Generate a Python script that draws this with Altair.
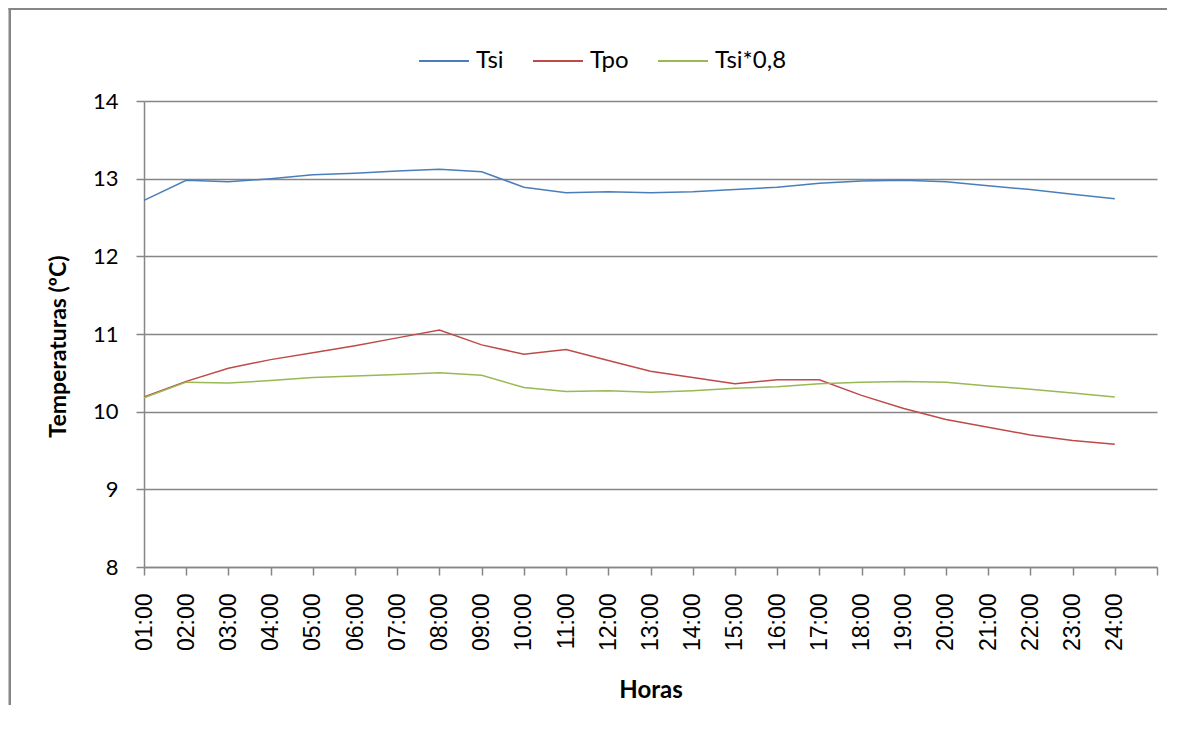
import json
import altair as alt
import pandas as pd

hours = ["01:00", "02:00", "03:00", "04:00", "05:00", "06:00", "07:00", "08:00",
         "09:00", "10:00", "11:00", "12:00", "13:00", "14:00", "15:00", "16:00",
         "17:00", "18:00", "19:00", "20:00", "21:00", "22:00", "23:00", "24:00"]

series_names = ["Tsi", "Tpo", "Tsi*0,8"]
series_colors = ["#4A7EBB", "#BE4B48", "#98B954"]

tsi = [12.72, 12.98, 12.96, 13.00, 13.05, 13.07, 13.10, 13.12, 13.09, 12.89, 12.82, 12.83,
       12.82, 12.83, 12.86, 12.89, 12.94, 12.97, 12.98, 12.96, 12.91, 12.86, 12.80, 12.74]
tpo = [10.19, 10.39, 10.56, 10.67, 10.76, 10.85, 10.95, 11.05, 10.86, 10.74, 10.80, 10.66,
       10.52, 10.44, 10.36, 10.41, 10.41, 10.21, 10.04, 9.90, 9.80, 9.70, 9.63, 9.58]
tsi08 = [10.18, 10.38, 10.37, 10.40, 10.44, 10.46, 10.48, 10.50, 10.47, 10.31, 10.26, 10.27,
         10.25, 10.27, 10.30, 10.32, 10.36, 10.38, 10.39, 10.38, 10.33, 10.29, 10.24, 10.19]

y_ticks = [8, 9, 10, 11, 12, 13, 14]

rows = []
for name, vals in zip(series_names, [tsi, tpo, tsi08]):
    for i, (h, v) in enumerate(zip(hours, vals)):
        rows.append({"idx": i, "hora": h, "serie": name, "valor": v})
df = pd.DataFrame(rows)

label_expr = "datum.value < 24 ? " + json.dumps(hours) + "[datum.value] : ''"

GRAY = "#868686"
W, H = 1013, 466
PAD = {"left": 136, "top": 93, "right": 12, "bottom": 140}

lines = alt.Chart(df).mark_line(strokeWidth=1.5, clip=False).encode(
    x=alt.X("idx:Q",
            scale=alt.Scale(domain=[0, 24], nice=False, zero=False),
            axis=alt.Axis(values=list(range(25)), labelExpr=label_expr, labelAngle=-90,
                          labelFont="Liberation Sans", labelFontSize=23, labelColor="#000000",
                          labelPadding=18, grid=False, domainColor=GRAY, domainWidth=1.5,
                          tickColor=GRAY, tickWidth=1.5, tickSize=8,
                          title="Horas", titleFont="Lato", titleFontSize=24,
                          titleFontWeight="bold", titleColor="#000000",
                          titleX=W / 2, titleY=123, titleAlign="center",
                          titleBaseline="middle", labelOverlap=False)),
    y=alt.Y("valor:Q",
            scale=alt.Scale(domain=[8, 14], nice=False, zero=False),
            axis=alt.Axis(values=y_ticks, labelFont="Lato", labelFontSize=22,
                          labelColor="#000000", labelPadding=18,
                          grid=True, gridColor=GRAY, gridWidth=1.5,
                          domainColor=GRAY, domainWidth=1.5, tickColor=GRAY,
                          tickWidth=1.5, tickSize=8,
                          title="Temperaturas (ºC)", titleFont="Lato", titleFontSize=23,
                          titleFontWeight="bold", titleColor="#000000",
                          titleX=-86, titleY=245, titleAlign="center",
                          titleBaseline="middle", titleAngle=-90)),
    color=alt.Color("serie:N",
                    scale=alt.Scale(domain=series_names, range=series_colors),
                    legend=alt.Legend(title=None, orient="none", direction="horizontal",
                                      legendX=274, legendY=-66,
                                      symbolType="stroke", symbolSize=2500,
                                      symbolStrokeWidth=2, labelFont="Lato",
                                      labelFontSize=24, labelColor="#000000",
                                      labelOffset=6, columnPadding=25, padding=0)),
    detail="serie:N",
)

frame_df = pd.DataFrame({"a": [0]})
frame_left = alt.Chart(frame_df).mark_rect(fill=GRAY, strokeWidth=0, clip=False).encode(
    x=alt.value(-135.5), x2=alt.value(-133), y=alt.value(-93.5), y2=alt.value(H + PAD["bottom"] - 2)
)
frame_top = alt.Chart(frame_df).mark_rect(fill=GRAY, strokeWidth=0, clip=False).encode(
    x=alt.value(-135.5), x2=alt.value(W + PAD["right"] - 2), y=alt.value(-93.5), y2=alt.value(-91)
)

chart = alt.layer(frame_left, frame_top, lines).properties(
    width=W, height=H,
    autosize=alt.AutoSizeParams(type="none"),
    padding=PAD,
).configure_view(strokeWidth=0)

chart.save("out.html", embed_options={"renderer": "svg", "actions": False})
